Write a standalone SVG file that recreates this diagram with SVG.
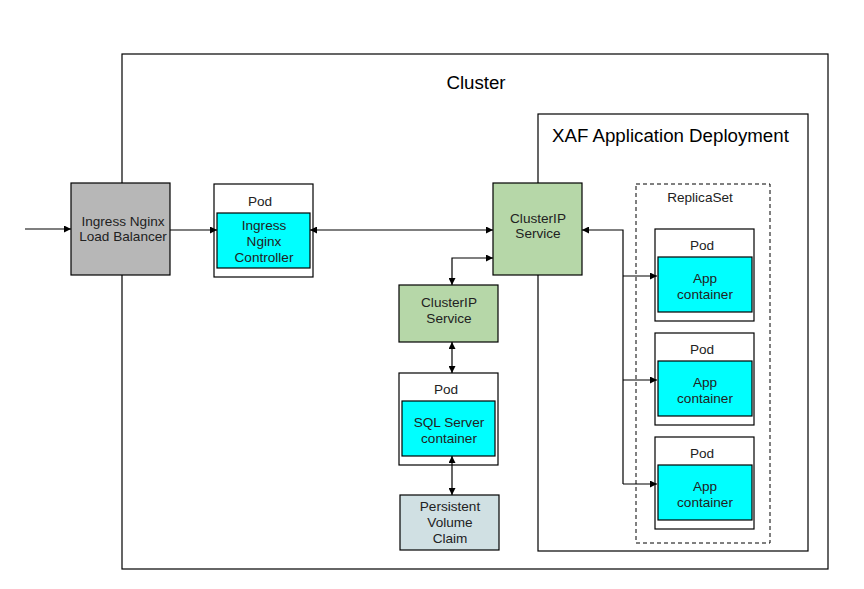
<svg xmlns="http://www.w3.org/2000/svg" width="864" height="589" viewBox="0 0 864 589">
<defs>
<marker id="ah" viewBox="0 0 10 10" refX="10" refY="5" markerWidth="7" markerHeight="7" markerUnits="userSpaceOnUse" orient="auto-start-reverse">
<path d="M0,0 L10,5 L0,10 z" fill="#000"/>
</marker>
<style>
.box{stroke:#000;stroke-width:1.2}
.t{font-family:"Liberation Sans",Arial,sans-serif;font-size:13.6px;fill:#222;text-anchor:middle}
.big{font-family:"Liberation Sans",Arial,sans-serif;font-size:18.7px;fill:#000}
.c{fill:none;stroke:#000;stroke-width:1.2}
.white{fill:#fff}
.cyan{fill:#00ffff}
.green{fill:#b6d7a8}
.gray{fill:#b7b7b7}
.pvc{fill:#d0e0e3}
</style>
</defs>
<rect width="864" height="589" fill="#fff"/>
<g id="cluster">
<rect class="box white" x="122" y="54" width="706" height="515"/>
<text class="big" x="476" y="89" text-anchor="middle">Cluster</text>
</g>
<g id="xaf-deployment">
<rect class="box white" x="538" y="114" width="270" height="437"/>
<text class="big" x="552" y="142">XAF Application Deployment</text>
</g>
<g id="replicaset">
<rect x="636" y="184" width="134" height="359" fill="none" stroke="#000" stroke-width="1" stroke-dasharray="4,3"/>
<text class="t" x="700" y="202">ReplicaSet</text>
</g>
<g id="ingress-lb">
<rect class="box gray" x="71" y="183" width="99" height="92"/>
<text class="t" x="123" y="226">Ingress Nginx</text>
<text class="t" x="123" y="241">Load Balancer</text>
</g>
<g id="ingress-pod">
<rect class="box white" x="214" y="184" width="99" height="93"/>
<text class="t" x="260" y="206">Pod</text>
<rect class="box cyan" x="217" y="213" width="93" height="55"/>
<text class="t" x="264" y="230">Ingress</text>
<text class="t" x="264" y="246">Nginx</text>
<text class="t" x="264" y="262">Controller</text>
</g>
<g id="clusterip-app">
<rect class="box green" x="493" y="183" width="89" height="92"/>
<text class="t" x="538" y="223">ClusterIP</text>
<text class="t" x="538" y="238">Service</text>
</g>
<g id="clusterip-sql">
<rect class="box green" x="399" y="285" width="99" height="57"/>
<text class="t" x="449" y="307">ClusterIP</text>
<text class="t" x="449" y="323">Service</text>
</g>
<g id="sql-pod">
<rect class="box white" x="399" y="373" width="99" height="92"/>
<text class="t" x="446" y="394">Pod</text>
<rect class="box cyan" x="402" y="401" width="93" height="55"/>
<text class="t" x="449" y="427">SQL Server</text>
<text class="t" x="449" y="443">container</text>
</g>
<g id="pvc">
<rect class="box pvc" x="400" y="495" width="99" height="55"/>
<text class="t" x="450" y="511">Persistent</text>
<text class="t" x="450" y="527">Volume</text>
<text class="t" x="450" y="543">Claim</text>
</g>
<g id="app-pod-1">
<rect class="box white" x="655" y="229" width="99" height="92"/>
<text class="t" x="702" y="250">Pod</text>
<rect class="box cyan" x="658" y="257" width="94" height="55"/>
<text class="t" x="705" y="283">App</text>
<text class="t" x="705" y="299">container</text>
</g>
<g id="app-pod-2">
<rect class="box white" x="655" y="333" width="99" height="92"/>
<text class="t" x="702" y="354">Pod</text>
<rect class="box cyan" x="658" y="361" width="94" height="55"/>
<text class="t" x="705" y="387">App</text>
<text class="t" x="705" y="403">container</text>
</g>
<g id="app-pod-3">
<rect class="box white" x="655" y="437" width="99" height="92"/>
<text class="t" x="702" y="458">Pod</text>
<rect class="box cyan" x="658" y="465" width="94" height="55"/>
<text class="t" x="705" y="491">App</text>
<text class="t" x="705" y="507">container</text>
</g>
<g id="connectors">
<line class="c" x1="25" y1="229" x2="71" y2="229" marker-end="url(#ah)"/>
<line class="c" x1="170" y1="230" x2="217" y2="230" marker-end="url(#ah)"/>
<line class="c" x1="310" y1="230" x2="493" y2="230" marker-start="url(#ah)" marker-end="url(#ah)"/>
<polyline class="c" points="452,285 452,258 493,258" marker-start="url(#ah)" marker-end="url(#ah)"/>
<line class="c" x1="452" y1="342" x2="452" y2="373" marker-start="url(#ah)" marker-end="url(#ah)"/>
<line class="c" x1="452" y1="456" x2="452" y2="495" marker-start="url(#ah)" marker-end="url(#ah)"/>
<polyline class="c" points="582,230 623,230 623,484" marker-start="url(#ah)"/>
<line class="c" x1="623" y1="276" x2="657" y2="276" marker-end="url(#ah)"/>
<line class="c" x1="623" y1="380" x2="657" y2="380" marker-end="url(#ah)"/>
<line class="c" x1="623" y1="484" x2="657" y2="484" marker-end="url(#ah)"/>
</g>
</svg>
